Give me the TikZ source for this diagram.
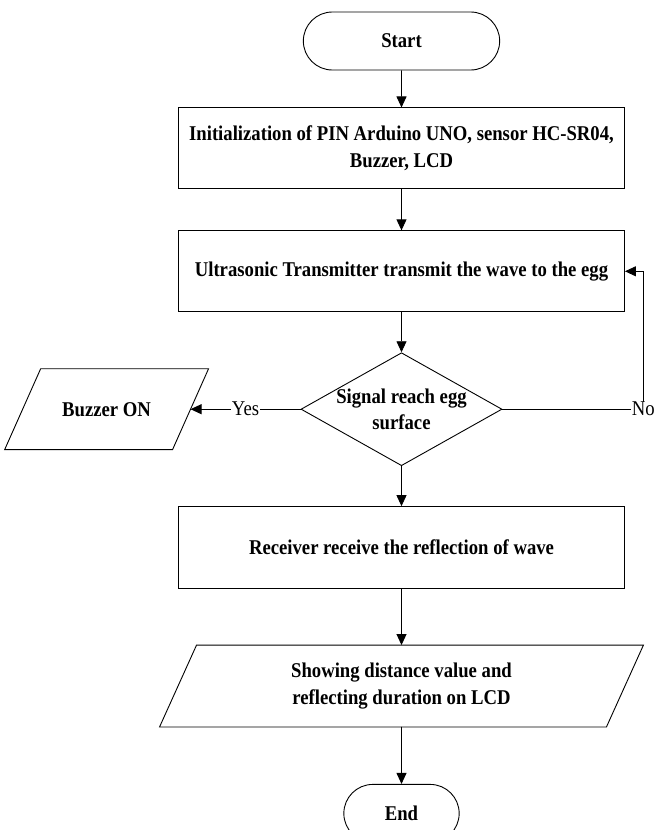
\documentclass[tikz,border=0pt]{standalone}
\usepackage{fontspec}
\setmainfont{Liberation Serif}[FakeStretch=0.89]
\usetikzlibrary{shapes.geometric, shapes.misc, arrows.meta, positioning}

\begin{document}
\begin{tikzpicture}[
    x=1pt, y=1pt, line width=0.9pt,
    box/.style={rectangle, draw, minimum width=446pt, minimum height=81pt, align=center, font=\fontsize{21}{27}\selectfont\bfseries},
    term/.style={rounded rectangle, draw, minimum height=58pt, font=\fontsize{21}{27}\selectfont\bfseries},
    io/.style={rectangle, minimum height=81pt, align=center, font=\fontsize{21}{27}\selectfont\bfseries},
    decision/.style={diamond, draw, minimum width=201pt, minimum height=113pt, inner sep=0pt},
    lbl/.style={inner sep=0pt, font=\fontsize{21}{27}\selectfont},
    arrow/.style={-{Triangle[length=11pt, width=10pt]}}
]
\useasboundingbox (0,0) rectangle (654,-830);

\node[term, minimum width=203pt] (start) at (401.5,-41) {Start};
\node[box, below=37pt of start] (init) {Initialization of PIN Arduino UNO, sensor HC-SR04,\\Buzzer, LCD};
\node[box, below=41pt of init] (ultra) {Ultrasonic Transmitter transmit the wave to the egg};
\node[decision, below=40pt of ultra] (signal) {};
\node[align=center, font=\fontsize{21}{26}\selectfont\bfseries] (signaltext) at (signal) {Signal reach egg\\surface};
\node[box, minimum height=82pt, below=40pt of signal] (recv) {Receiver receive the reflection of wave};
\node[io, minimum width=446pt, below=56pt of recv] (show) {Showing distance value and\\reflecting duration on LCD};
\node[term, minimum width=122pt, below=57pt of show] (finish) {End};
\node[io, minimum width=167pt, minimum height=80pt, left=110pt of signal] (buzzer) {Buzzer ON};
\node[lbl, anchor=west, right=129pt of signal] (no) {No};

% slanted input/output boxes
\draw ([xshift=18pt]buzzer.north west) -- ([xshift=18pt]buzzer.north east) -- ([xshift=-18pt]buzzer.south east) -- ([xshift=-18pt]buzzer.south west) -- cycle;
\draw ([xshift=18.5pt]show.north west) -- ([xshift=18.5pt]show.north east) -- ([xshift=-18.5pt]show.south east) -- ([xshift=-18.5pt]show.south west) -- cycle;

\draw[arrow] (start) -- (init);
\draw[arrow] (init) -- (ultra);
\draw[arrow] (ultra) -- (signal);
\draw[arrow] (signal) -- (recv);
\draw[arrow] (recv) -- (show);
\draw[arrow] (show) -- (finish);
\draw[arrow] (signal) -- node[lbl, fill=white, inner xsep=1pt] (yes) {Yes} (buzzer);
\draw (signal) -- (no);
\draw[arrow] (no.north) |- (ultra.east);
\end{tikzpicture}
\end{document}
